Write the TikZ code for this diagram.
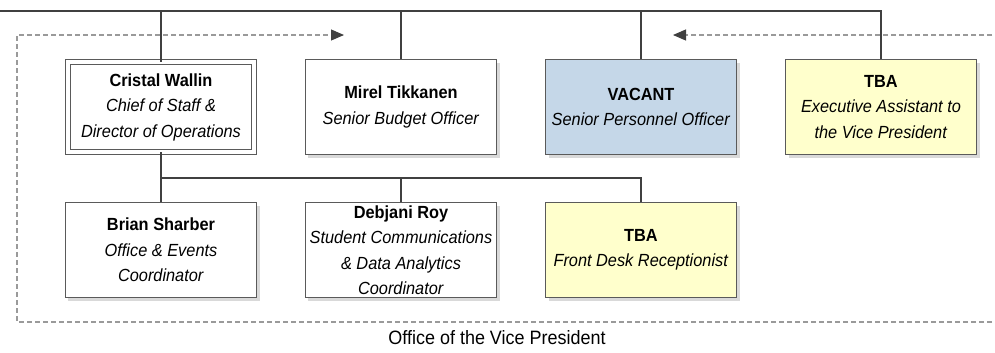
\documentclass[tikz,border=0pt]{standalone}
\usepackage{fontspec}
\setmainfont{Liberation Sans}[FakeStretch=0.93]
\usepackage{tikz}
\usetikzlibrary{arrows.meta}
\usetikzlibrary{shadows}
\definecolor{linegray}{HTML}{404040}
\definecolor{boxgray}{HTML}{5A5A5A}
\definecolor{dashgray}{HTML}{9A9A9A}
\definecolor{vacantblue}{HTML}{C5D7E8}
\definecolor{tbayellow}{HTML}{FFFFCC}
\tikzstyle{posbox} = [draw=boxgray, line width=0.6pt, fill=white, minimum width=3.82cm, minimum height=1.9cm, align=center, inner sep=1pt, font=\fontsize{10}{14.5}\selectfont, drop shadow={shadow xshift=0.6mm, shadow yshift=-0.6mm, fill=black!15, opacity=1}]
\tikzstyle{link} = [draw=linegray, line width=1.3pt]
\tikzstyle{group} = [draw=dashgray, line width=0.6pt, dash pattern=on 1mm off 0.6mm]

\begin{document}
\begin{tikzpicture}[x=0.2mm,y=-0.2mm]
	\useasboundingbox (0,0) rectangle (995,352);
	
	% ------------------- Group boundary ------------------- %
	\coordinate (gBR) at (1000,322);
	\coordinate (gTL) at (17,35);
	\coordinate (gTR) at (1000,35);
	\coordinate (gArrL) at (344,35);
	\coordinate (gArrR) at (673,35);
	\draw[group, -{Triangle[length=2.6mm,width=2.2mm,color=linegray]}] (gBR) -| (gTL) -- (gArrL);
	\draw[group, -{Triangle[length=2.6mm,width=2.2mm,color=linegray]}] (gTR) -- (gArrR);
	\node[font=\fontsize{11}{13}\selectfont] (grplabel) at (497,338) {Office of the Vice President};
	
	% ------------------- First row ------------------- %
	\node[posbox, double=white, double distance=0.8mm, minimum width=3.71cm, minimum height=1.79cm] (cw) at (161,107) {\textbf{Cristal Wallin}\\\textit{Chief of Staff \&}\\\textit{Director of Operations}};
	\node[posbox] (mt) at (401,107) {\textbf{Mirel Tikkanen}\\\textit{Senior Budget Officer}};
	\node[posbox, fill=vacantblue] (vac) at (641,107) {\textbf{VACANT}\\\textit{Senior Personnel Officer}};
	\node[posbox, fill=tbayellow] (ea) at (881,107) {\textbf{TBA}\\\textit{Executive Assistant to}\\\textit{the Vice President}};
	
	% ------------------- Second row ------------------- %
	\node[posbox] (bs) at (161,250) {\textbf{Brian Sharber}\\\textit{Office \& Events}\\\textit{Coordinator}};
	\node[posbox] (dr) at (401,250) {\textbf{Debjani Roy}\\\textit{Student Communications}\\\textit{\& Data Analytics}\\\textit{Coordinator}};
	\node[posbox, fill=tbayellow] (fd) at (641,250) {\textbf{TBA}\\\textit{Front Desk Receptionist}};
	
	% ------------------- Connectors ------------------- %
	\coordinate (top) at (0,11);
	\coordinate (bus) at (0,178);
	\draw[link] (top) -- (ea.north |- top) -- (ea.north);
	\draw[link] (cw.north |- top) -- (cw.north);
	\draw[link] (mt.north |- top) -- (mt.north);
	\draw[link] (vac.north |- top) -- (vac.north);
	
	\draw[link] (cw.south) |- (fd.north |- bus) -- (fd.north);
	\draw[link] (bs.north |- bus) -- (bs.north);
	\draw[link] (dr.north |- bus) -- (dr.north);
\end{tikzpicture}
\end{document}
